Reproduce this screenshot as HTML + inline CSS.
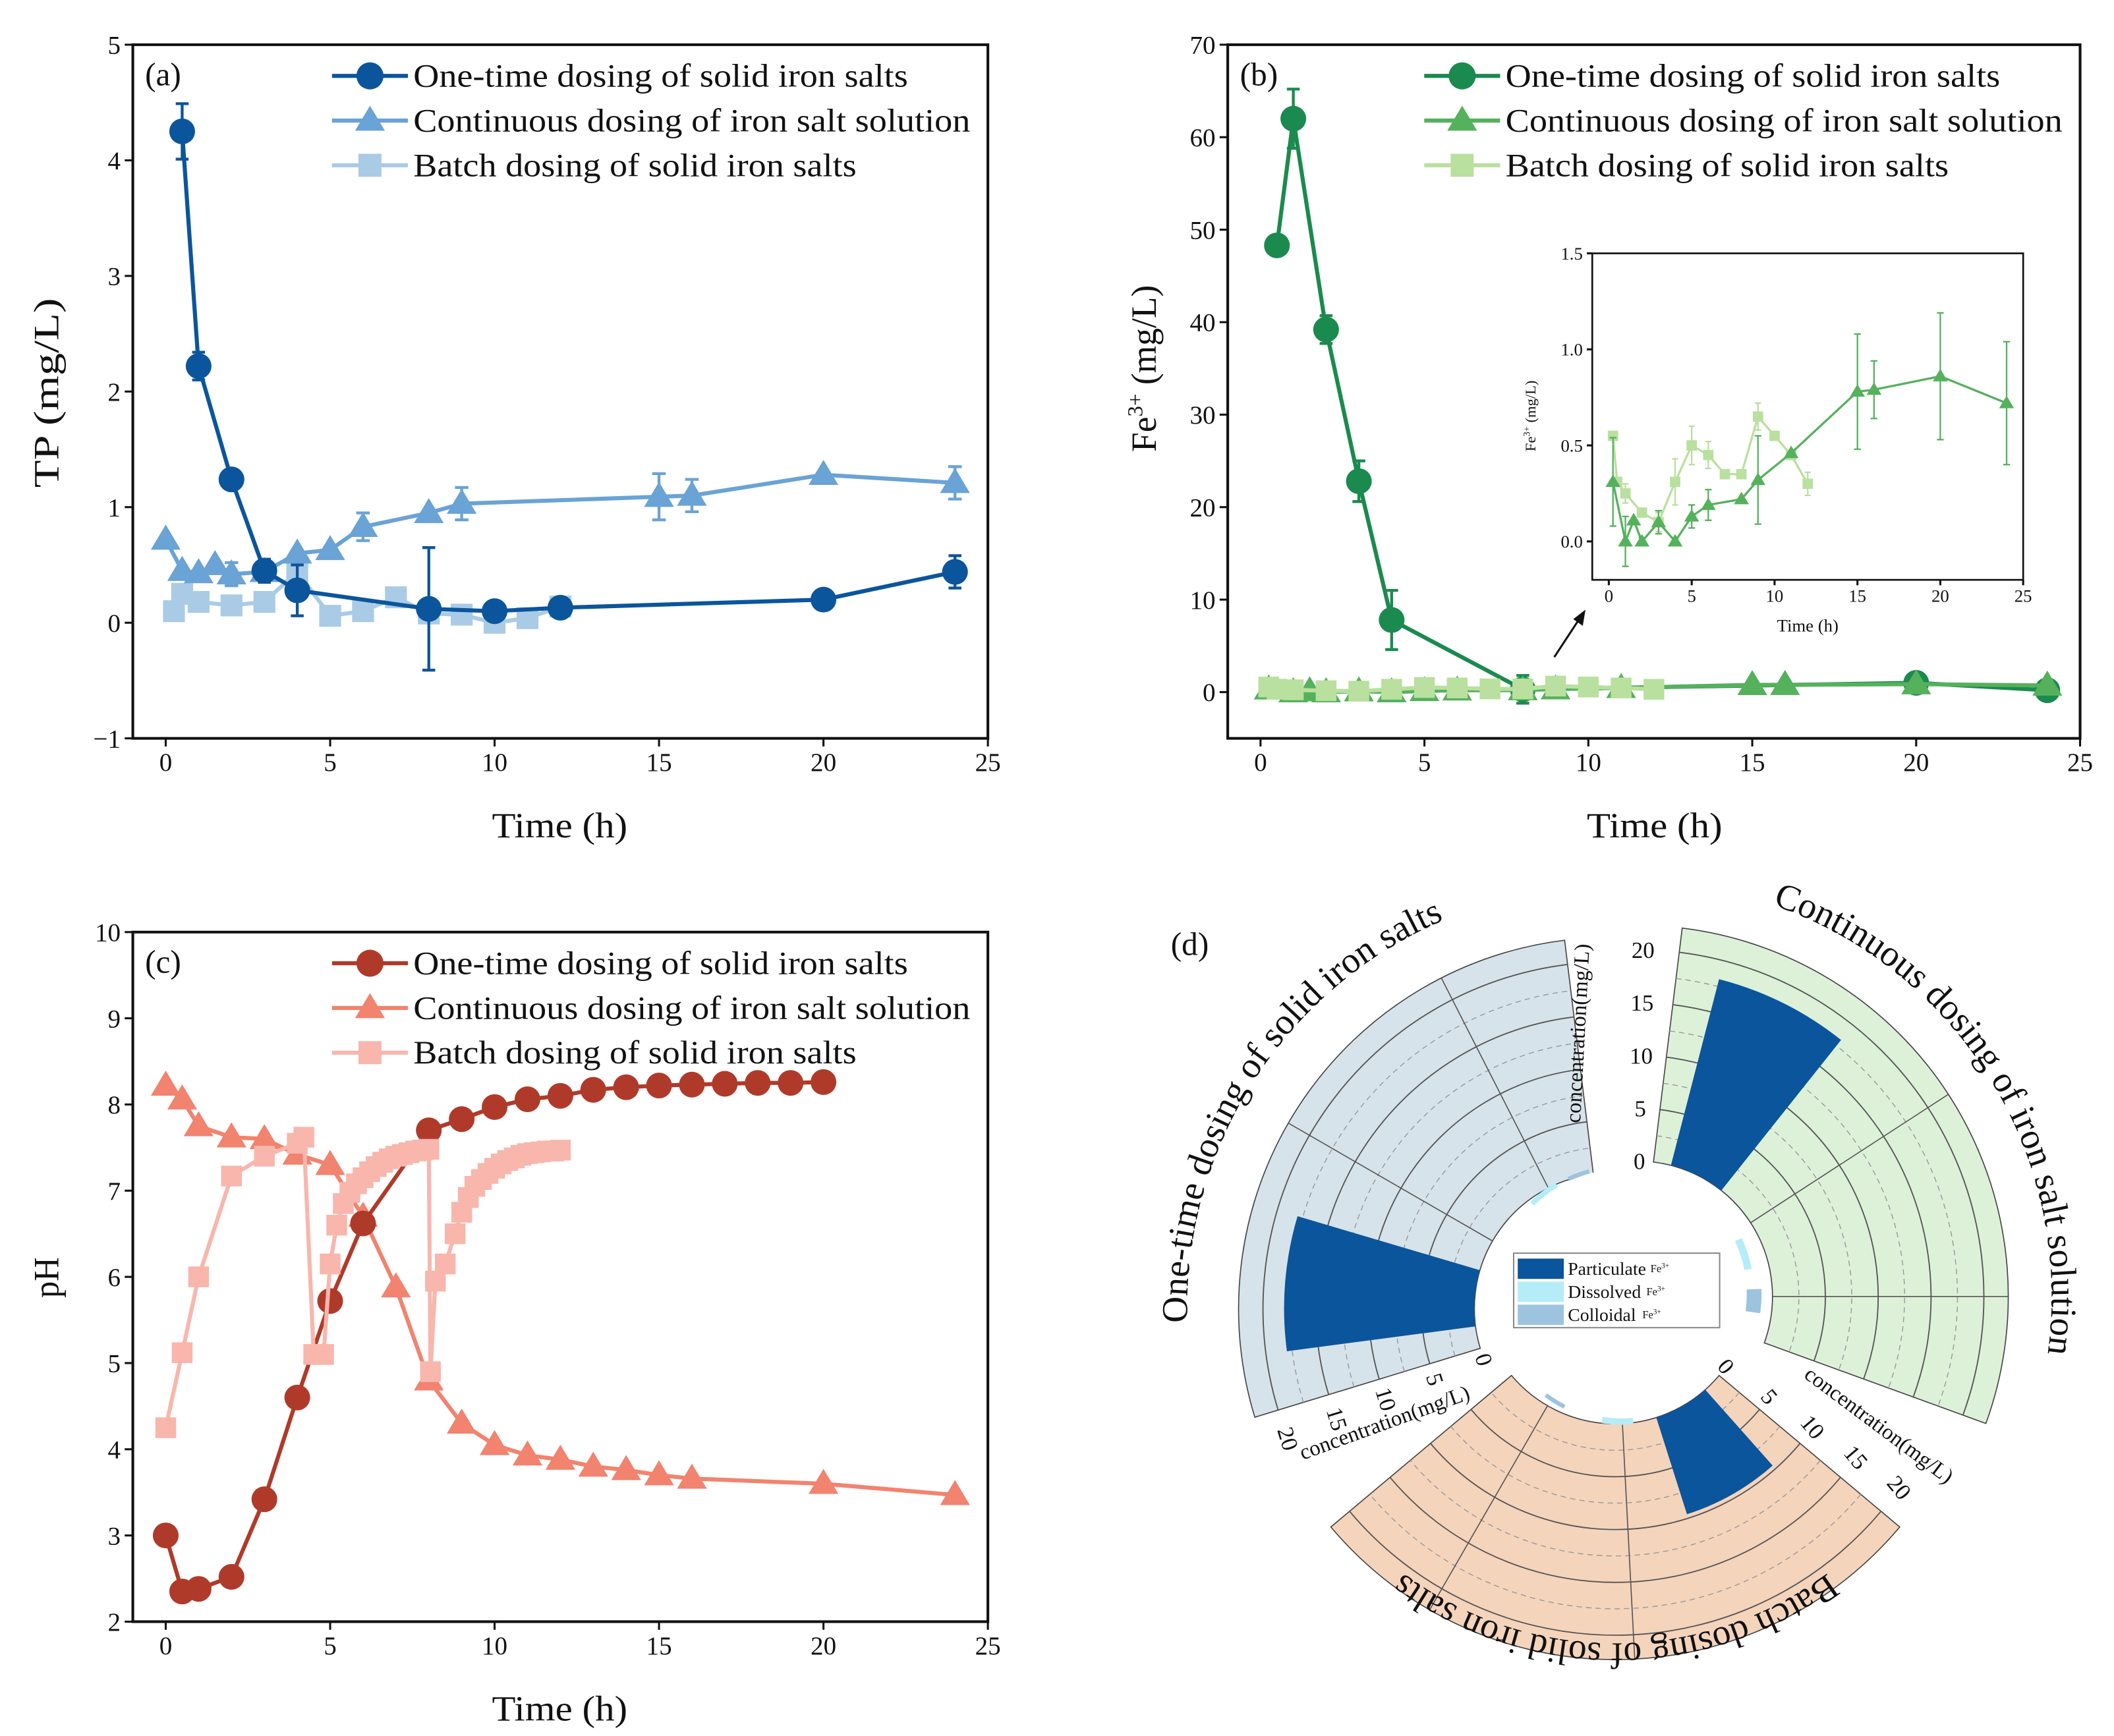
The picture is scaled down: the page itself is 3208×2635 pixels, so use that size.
<!DOCTYPE html>
<html><head><meta charset="utf-8">
<style>
html,body{margin:0;padding:0;background:#fff;}
svg{display:block;font-family:"Liberation Serif","DejaVu Serif",serif;}
</style></head>
<body>
<svg id="fig" xmlns="http://www.w3.org/2000/svg" width="3208" height="2635" viewBox="0 0 1560 1281.4"></svg>
<script>
// ---------- data ----------
const aOneX=[0.5,1,2,3,4,8,10,12,20,24];
const aOneY=[4.25,2.22,1.24,0.45,0.28,0.12,0.1,0.13,0.2,0.44];
const aOneE=[0.24,0.12,0,0.1,0.22,0.53,0,0,0,0.14];
const aConX=[0,0.5,1,1.5,2,3,4,5,6,8,9,15,16,20,24];
const aConY=[0.72,0.45,0.43,0.5,0.42,0.44,0.6,0.63,0.83,0.95,1.03,1.09,1.1,1.28,1.21];
const aConE=[0,0,0,0,0.1,0,0,0,0.12,0,0.14,0.2,0.14,0,0.14];
const aBatX=[0.25,0.5,1,2,3,4,5,6,7,8,9,10,11,12];
const aBatY=[0.1,0.25,0.18,0.15,0.18,0.44,0.06,0.1,0.22,0.08,0.07,0.0,0.04,0.14];

const bOneX=[0.5,1,2,3,4,8,20,24];
const bOneY=[48.3,62,39.2,22.8,7.8,0.3,1.0,0.2];
const bOneE=[0,3.2,1.5,2.2,3.2,1.5,0,0];
const bConX=[0.25,1,1.5,2,3,4,5,6,8,9,11,15,16,20,24];
const bConY=[0.31,0,0.11,0,0.1,0,0.13,0.19,0.22,0.32,0.46,0.78,0.79,0.86,0.72];
const bConE=[0.23,0.13,0,0.02,0.06,0.02,0.06,0.08,0,0.23,0,0.3,0.15,0.33,0.32];
const bBatX=[0.25,0.5,1,2,3,4,5,6,7,8,9,10,11,12];
const bBatY=[0.55,0.31,0.25,0.15,0.1,0.31,0.5,0.45,0.35,0.35,0.65,0.55,0.45,0.3];
const bBatE=[0,0,0.05,0,0.05,0.12,0.1,0.07,0,0,0.07,0,0,0.06];

const cOneX=[0,0.5,1,2,3,4,5,6,8,9,10,11,12,13,14,15,16,17,18,19,20];
const cOneY=[3.0,2.35,2.38,2.52,3.42,4.6,5.72,6.62,7.7,7.83,7.97,8.06,8.1,8.17,8.2,8.22,8.23,8.24,8.25,8.25,8.26];
const cConX=[0,0.5,1,2,3,4,5,6,7,8,9,10,11,12,13,14,15,16,20,24];
const cConY=[8.22,8.06,7.75,7.62,7.6,7.42,7.3,6.7,5.88,4.8,4.3,4.05,3.93,3.88,3.8,3.76,3.7,3.66,3.6,3.47];
const cBatX=[0,0.5,1,2,3,4,4.2,4.5,4.8,5,5.2,5.4,5.6,5.8,6,6.2,6.4,6.6,6.8,7,7.2,7.4,7.6,7.8,8,8.05,8.2,8.5,8.8,9,9.2,9.4,9.6,9.8,10,10.2,10.4,10.6,10.8,11,11.2,11.4,11.6,11.8,12];
const cBatY=[4.25,5.12,6.0,7.17,7.4,7.55,7.62,5.1,5.1,6.15,6.6,6.85,6.98,7.08,7.15,7.22,7.28,7.33,7.37,7.4,7.42,7.44,7.46,7.47,7.48,4.9,5.95,6.15,6.5,6.75,6.92,7.05,7.13,7.2,7.26,7.31,7.35,7.38,7.41,7.43,7.44,7.45,7.46,7.46,7.47];

const dGroups=["One-time dosing of solid iron salts","Continuous dosing of iron salt solution","Batch dosing of solid iron salts"];
const dParticulate=[18,18.2,9.6];
const dDissolved=[0.5,0.7,0.6];
const dColloidal=[0.4,1.4,0.4];
const dTicks=[0,5,10,15,20];

// ---------- helpers ----------
const NS='http://www.w3.org/2000/svg';
const svg=document.getElementById('fig');
function mk(tag,attrs,parent){const e=document.createElementNS(NS,tag);for(const k in attrs)e.setAttribute(k,attrs[k]);(parent||svg).appendChild(e);return e;}
function txt(s,attrs,parent){const e=mk('text',attrs,parent);e.textContent=s;return e;}

function makeAxes(name,box,xr,yr,xt,yt,ytl,fs,tl){
  const g=mk('g',{});
  
  
  const sx=v=>box.l+(v-xr[0])/(xr[1]-xr[0])*(box.r-box.l);
  const sy=v=>box.b-(v-yr[0])/(yr[1]-yr[0])*(box.b-box.t);
  const fr=mk('rect',{x:box.l,y:box.t,width:box.r-box.l,height:box.b-box.t,fill:'#fff',stroke:'#111','stroke-width':fs>15?2:1.3},g);
  
  
  xt.forEach(v=>{
    mk('line',{x1:sx(v),x2:sx(v),y1:box.b,y2:box.b+tl,stroke:'#111','stroke-width':1.5},g);
    const t=txt(String(v),{x:sx(v),y:box.b+tl+fs*0.95,'font-size':fs,'text-anchor':'middle',fill:'#111'},g);
    
    
  });
  yt.forEach((v,i)=>{
    mk('line',{x1:box.l-tl,x2:box.l,y1:sy(v),y2:sy(v),stroke:'#111','stroke-width':1.5},g);
    const t=txt(ytl[i],{x:box.l-tl-3,y:sy(v)+fs*0.35,'font-size':fs,'text-anchor':'end',fill:'#111'},g);
    
    
  });
  return {sx,sy,g};
}
function marker(shape,x,y,s,color,parent){
  if(shape==='circle')return mk('circle',{cx:x,cy:y,r:s,fill:color},parent);
  if(shape==='tri')return mk('polygon',{points:`${x},${y-s*1.1} ${x-s*1.1},${y+s*0.75} ${x+s*1.1},${y+s*0.75}`,fill:color},parent);
  return mk('rect',{x:x-s*0.85,y:y-s*0.85,width:s*1.7,height:s*1.7,fill:color},parent);
}
function series(name,ax,X,Y,E,shape,color,s,lw){
  const g=mk('g',{});
  
  
  const pts=X.map((x,i)=>ax.sx(x)+','+ax.sy(Y[i])).join(' ');
  mk('polyline',{points:pts,fill:'none',stroke:color,'stroke-width':lw},g);
  if(E){X.forEach((x,i)=>{if(!E[i])return;const px=ax.sx(x),y1=ax.sy(Y[i]-E[i]),y2=ax.sy(Y[i]+E[i]);
    mk('line',{x1:px,x2:px,y1:y1,y2:y2,stroke:color,'stroke-width':lw*0.7},g);
    mk('line',{x1:px-s*0.5,x2:px+s*0.5,y1:y1,y2:y1,stroke:color,'stroke-width':lw*0.7},g);
    mk('line',{x1:px-s*0.5,x2:px+s*0.5,y1:y2,y2:y2,stroke:color,'stroke-width':lw*0.7},g);});}
  X.forEach((x,i)=>{const m=marker(shape,ax.sx(x),ax.sy(Y[i]),s,color,g);
    
    });
}
const legLens=[365,411,327];
function legend(x,y,entries){
  entries.forEach((e,i)=>{
    const g=mk('g',{});
    
    
    const yy=y+i*33;
    mk('line',{x1:x,x2:x+56,y1:yy,y2:yy,stroke:e[2],'stroke-width':3},g);
    marker(e[1],x+28,yy,10,e[2],g);
    txt(e[0],{x:x+60,y:yy+8,'font-size':24,fill:'#111',textLength:legLens[i],lengthAdjust:'spacingAndGlyphs'},g);
  });
}
const names=["One-time dosing of solid iron salts","Continuous dosing of iron salt solution","Batch dosing of solid iron salts"];
function title(s,x,y,rot,len,name){
  const t=txt(s,{x:0,y:0,'font-size':26,'text-anchor':'middle',transform:`translate(${x},${y}) rotate(${rot})`,fill:'#111',textLength:len,lengthAdjust:'spacingAndGlyphs'});
  
  
}

// ---------- panel a ----------
const A=makeAxes('panel-a-axes',{l:98,r:729,t:33,b:545},[-1,25],[-1,5],[0,5,10,15,20,25],[-1,0,1,2,3,4,5],['−1','0','1','2','3','4','5'],19,6);
const ca=['#0b559c','#6aa3d5','#a9cbe6'];
series('a-batch',A,aBatX,aBatY,null,'sq',ca[2],9.5,3);
series('a-continuous',A,aConX,aConY,aConE,'tri',ca[1],10,3);
series('a-onetime',A,aOneX,aOneY,aOneE,'circle',ca[0],9.5,3);
legend(245,56,[[names[0],'circle',ca[0]],[names[1],'tri',ca[1]],[names[2],'sq',ca[2]]]);
let t=txt('(a)',{x:107,y:63,'font-size':24,fill:'#111'});
title('TP (mg/L)',43,290,-90,140,'y-axis-title-a');
title('Time (h)',413,618,0,100,'x-axis-title-a');

// ---------- panel b ----------
const B=makeAxes('panel-b-axes',{l:906,r:1535,t:33,b:545},[-1,25],[-5,70],[0,5,10,15,20,25],[0,10,20,30,40,50,60,70],['0','10','20','30','40','50','60','70'],19,6);
const cb=['#1b8a4e','#55b15c','#b9e09e'];
series('b-onetime',B,bOneX,bOneY,bOneE,'circle',cb[0],9.5,3);
series('b-continuous',B,bConX,bConY,null,'tri',cb[1],10,3);
series('b-batch',B,bBatX,bBatY,null,'sq',cb[2],9,3);
legend(1051,56,[[names[0],'circle',cb[0]],[names[1],'tri',cb[1]],[names[2],'sq',cb[2]]]);
t=txt('(b)',{x:915,y:63,'font-size':24,fill:'#111'});
t=mk('text',{x:0,y:0,'font-size':26,'text-anchor':'middle',transform:'translate(853,272) rotate(-90)',fill:'#111'});
t.innerHTML='Fe<tspan dy="-10" font-size="16">3+</tspan><tspan dy="10"> (mg/L)</tspan>';

title('Time (h)',1221,618,0,100,'x-axis-title-b');
// inset
const I=makeAxes('inset-axes',{l:1175,r:1493,t:187,b:428},[-1,25],[-0.2,1.5],[0,5,10,15,20,25],[0,0.5,1,1.5],['0.0','0.5','1.0','1.5'],13,4);
series('inset-batch',I,bBatX,bBatY,bBatE,'sq',cb[2],4.5,1.6);
series('inset-continuous',I,bConX,bConY,bConE,'tri',cb[1],5,1.6);
t=mk('text',{x:0,y:0,'font-size':11,'text-anchor':'middle',transform:'translate(1133,307) rotate(-90)',fill:'#111'});
t.innerHTML='Fe<tspan dy="-4" font-size="7">3+</tspan><tspan dy="4"> (mg/L)</tspan>';

t=txt('Time (h)',{x:1334,y:466,'font-size':13,'text-anchor':'middle',fill:'#111'});
t=mk('line',{x1:1147,y1:485,x2:1166,y2:456,stroke:'#111','stroke-width':1.5});
t=mk('polygon',{points:'1170,450 1161,457 1168,462',fill:'#111'});

// ---------- panel c ----------
const C=makeAxes('panel-c-axes',{l:98,r:729,t:688,b:1197},[-1,25],[2,10],[0,5,10,15,20,25],[2,3,4,5,6,7,8,9,10],['2','3','4','5','6','7','8','9','10'],19,6);
const cc=['#b03a2a','#f1836f','#f8b6ad'];
series('c-continuous',C,cConX,cConY,null,'tri',cc[1],10,3);
series('c-onetime',C,cOneX,cOneY,null,'circle',cc[0],9.5,3);
series('c-batch',C,cBatX,cBatY,null,'sq',cc[2],9,3);
legend(245,711,[[names[0],'circle',cc[0]],[names[1],'tri',cc[1]],[names[2],'sq',cc[2]]]);
t=txt('(c)',{x:107,y:718,'font-size':24,fill:'#111'});
title('pH',43,943,-90,30,'y-axis-title-c');
title('Time (h)',413,1270,0,100,'x-axis-title-c');

// ---------- panel d (polar) ----------
const r0=100,Rout=274;
const rr=v=>r0+v*7.8;
const centers=[[1188,966],[1208,957],[1192,951]];
const gc=[1197,955],gr=92;
const P=(c,r,a)=>[c[0]+r*Math.cos(a*Math.PI/180),c[1]-r*Math.sin(a*Math.PI/180)];
function wedge(c,ri,ro,a1,a2){
  const p1=P(c,ro,a2),p2=P(c,ro,a1),p3=P(c,ri,a1),p4=P(c,ri,a2);const lg=(a2-a1)>180?1:0;
  return `M${p1} A${ro},${ro} 0 ${lg} 1 ${p2} L${p3} A${ri},${ri} 0 ${lg} 0 ${p4}Z`;
}
function arcPath(c,r,a1,a2){const p1=P(c,r,a1),p2=P(c,r,a2);return `M${p1} A${r},${r} 0 0 1 ${p2}`;}
const sectors=[[97,197],[-20,83],[220,320]];
const sectorFill=['#d7e3ea','#ddf1d9','#f5d4bc'];
const slotAng=[[175.5,128,110],[63.5,18,-3],[299.6,268,238]];
const slotW=[24,14,10];
const dcol=['#0b559c','#b5ecf8','#9dc4de'];
const D=mk('g',{});


const smallBars=[];
sectors.forEach((s,gi)=>{
  const c=centers[gi];
  const g=mk('g',{},D);
  
  
  mk('path',{d:wedge(c,r0,Rout,s[0],s[1]),fill:sectorFill[gi],stroke:'#444','stroke-width':0.8},g);
  for(let v=2.5;v<=20;v+=2.5){const p1=P(c,rr(v),s[1]),p2=P(c,rr(v),s[0]);
    mk('path',{d:`M${p1} A${rr(v)},${rr(v)} 0 0 1 ${p2}`,fill:'none',stroke:v%5===0?'#555':'#9a9a9a','stroke-width':v%5===0?0.9:0.7,'stroke-dasharray':v%5===0?'none':'4,3'},g);}
  [20,53].forEach(f=>{const a=s[0]+f;const p1=P(c,r0,a),p2=P(c,Rout,a);mk('line',{x1:p1[0],y1:p1[1],x2:p2[0],y2:p2[1],stroke:'#555','stroke-width':0.8},g);});
  const ac=slotAng[gi][0];
  const b=mk('path',{d:wedge(c,r0,rr(dParticulate[gi]),ac-slotW[0]/2,ac+slotW[0]/2),fill:dcol[0]},g);
  
  
});
mk('circle',{cx:gc[0],cy:gc[1],r:gr,fill:'#fff'},D);
sectors.forEach((s,gi)=>{
  [dDissolved[gi],dColloidal[gi]].forEach((v,k)=>{
    const ac=slotAng[gi][k+1];
    const b=mk('path',{d:wedge(gc,gr,gr+v*7.8,ac-slotW[k+1]/2,ac+slotW[k+1]/2),fill:dcol[k+1]},D);
    
    
  });
});
const defs=mk('defs',{});
const labelArcs=[[0,312,195,100],[1,306,80,-17],[2,262,320,220]];
labelArcs.forEach((la)=>{
  const gi=la[0];
  mk('path',{id:'lab'+gi,d:arcPath(centers[gi],la[1],la[2],la[3])},defs);
  const tx=mk('text',{'font-size':27,fill:'#111'},D);
  
  
  const tp=mk('textPath',{href:'#lab'+gi,startOffset:'50%','text-anchor':'middle'},tx);
  tp.textContent=dGroups[gi];
});
// radial ticks: [sector, edge angle, angular offset, rotation]
const tickEdges=[[0,197,5,-107],[1,83,6,0],[2,320,5,-130]];
tickEdges.forEach(te=>{
  const c=centers[te[0]];
  dTicks.forEach(v=>{const p=P(c,rr(v),te[1]+te[2]);
    const tk=txt(String(v),{x:p[0],y:p[1]+6,'font-size':17,'text-anchor':'middle',fill:'#111'},D);
    if(te[3]!==0)tk.setAttribute('transform',`rotate(${te[3]+180},${p[0]},${p[1]})`);
    
    });
});
const capArcs=['M955,1080 L1092,1030','M1166,830 L1173,696','M1322,1010 L1445,1102'];
capArcs.forEach((d,i)=>{
  mk('path',{id:'cap'+i,d:d},defs);
  const tx=mk('text',{'font-size':16,fill:'#111'},D);
  
  
  const tp=mk('textPath',{href:'#cap'+i,startOffset:'50%','text-anchor':'middle'},tx);
  tp.textContent='concentration(mg/L)';
});
// legend
const lg=mk('g',{},D);


mk('rect',{x:1117,y:925,width:152,height:55,fill:'#fff',stroke:'#888','stroke-width':1},lg);
['Particulate','Dissolved','Colloidal'].forEach((n,i)=>{
  const y=929+i*17;
  mk('rect',{x:1120,y:y,width:34,height:15,fill:dcol[i]},lg);
  txt(n,{x:1157,y:y+12,'font-size':13.5,fill:'#111'},lg);
  const f=mk('text',{x:1218-i*3,y:y+10,'font-size':8,fill:'#111'},lg);
  f.innerHTML='Fe<tspan dy="-3" font-size="5.5">3+</tspan>';
});
t=txt('(d)',{x:864,y:705,'font-size':24,fill:'#111'});
</script>
</body></html>
